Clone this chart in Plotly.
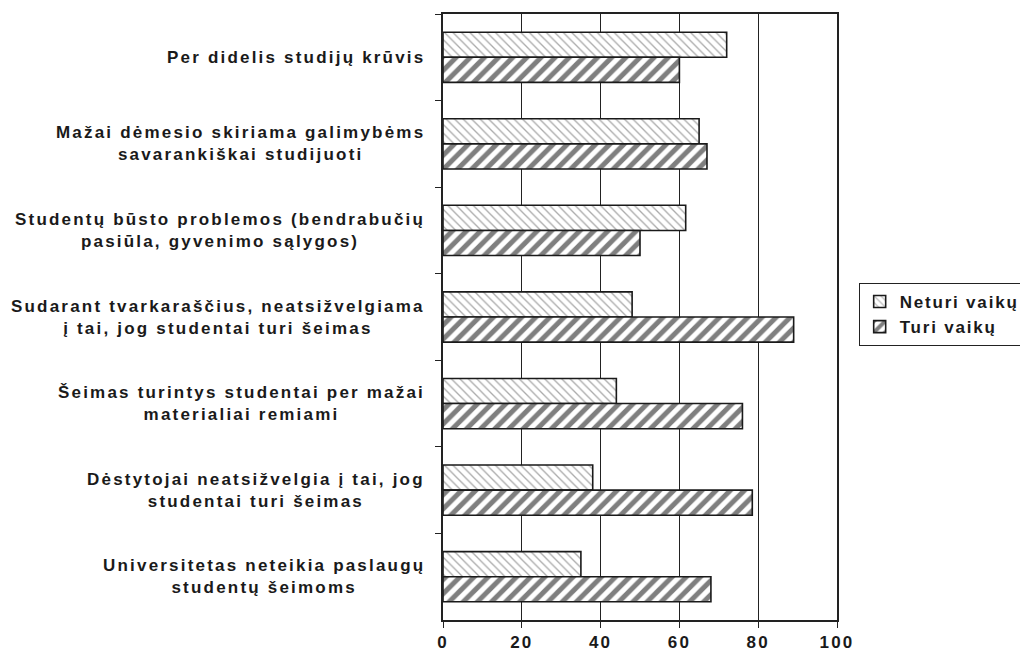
import plotly.graph_objects as go

# survey categories, top to bottom
categories = [
    "Per didelis studijų krūvis",
    "Mažai dėmesio skiriama galimybėms<br>savarankiškai studijuoti",
    "Studentų būsto problemos (bendrabučių<br>pasiūla, gyvenimo sąlygos)",
    "Sudarant tvarkaraščius, neatsižvelgiama<br>į tai, jog studentai turi šeimas",
    "Šeimas turintys studentai per mažai<br>materialiai remiami",
    "Dėstytojai neatsižvelgia į tai, jog<br>studentai turi šeimas",
    "Universitetas neteikia paslaugų<br>studentų šeimoms",
]
neturi_vaiku = [72, 65, 61.6, 48, 44, 38, 35]
turi_vaiku = [60, 67, 50, 89, 76, 78.5, 68]
x_ticks = [0, 20, 40, 60, 80, 100]

TEXT = "#1a1a1a"
FONT = "Liberation Sans, Arial, sans-serif"
SIZE = 17
SPACING = 2.2  # the original text is drawn wide, mimic with letter spacing


def spaced(s, px=SPACING):
    return "<br>".join(f"<span style='letter-spacing:{px}px'>{ln}</span>"
                       for ln in s.split("<br>"))


fig = go.Figure()

fig.add_trace(go.Bar(
    y=categories, x=neturi_vaiku, orientation="h",
    name=spaced("Neturi vaikų", 1.8), legendgroup="a",
    marker=dict(color="white", line=dict(color="#1a1a1a", width=1.6),
                pattern=dict(shape="\\", size=6, solidity=0.22,
                             fgcolor="#555", bgcolor="white")),
))
fig.add_trace(go.Bar(
    y=categories, x=turi_vaiku, orientation="h",
    name=spaced("Turi vaikų", 1.8), legendgroup="b",
    marker=dict(color="white", line=dict(color="#1a1a1a", width=1.6),
                pattern=dict(shape="/", size=10, solidity=0.5,
                             fgcolor="black", bgcolor="white")),
))

# centred multi-line category labels, right edge just left of the axis
for cat in categories:
    fig.add_annotation(
        x=0, xref="paper", y=cat, yref="y",
        xanchor="right", yanchor="middle", align="center", showarrow=False,
        xshift=-16, text=spaced(cat),
        font=dict(family=FONT, size=SIZE, color=TEXT, weight="bold"),
    )

fig.update_layout(
    width=1020, height=652,
    paper_bgcolor="white", plot_bgcolor="white",
    margin=dict(l=435, r=191, t=4, b=40),
    barmode="group", bargap=0.42, bargroupgap=0,
    font=dict(family=FONT, size=SIZE, color=TEXT, weight="bold"),
    showlegend=True,
    legend=dict(xref="container", yref="container",
                x=0.834, xanchor="left", y=0.53, yanchor="middle",
                bordercolor="#222", borderwidth=1, bgcolor="white",
                traceorder="grouped", tracegroupgap=0,
                font=dict(family=FONT, size=SIZE, color=TEXT, weight="bold")),
    xaxis=dict(range=[0, 100], tickvals=x_ticks,
               ticktext=[spaced(str(v)) for v in x_ticks],
               showgrid=True, gridcolor="#222", gridwidth=1.2,
               showline=True, linecolor="#222", linewidth=1.5,
               mirror=True, ticks="outside", ticklen=6, tickcolor="#222",
               zeroline=False, fixedrange=True,
               tickfont=dict(family=FONT, size=SIZE, color=TEXT, weight="bold")),
    yaxis=dict(autorange="reversed", showticklabels=False, showline=True,
               linecolor="#222", linewidth=1.5, mirror=True, ticks="outside",
               ticklen=6, tickcolor="#222", tickson="boundaries",
               showgrid=False, fixedrange=True),
)

fig.write_html("out.html")
